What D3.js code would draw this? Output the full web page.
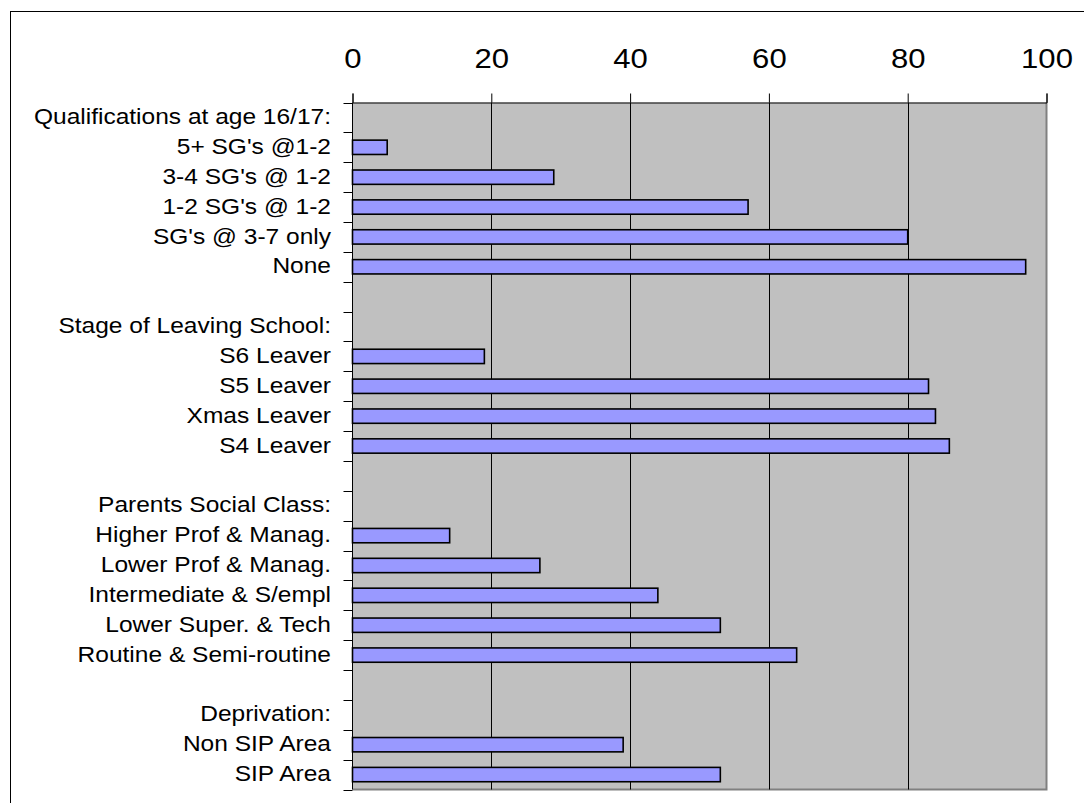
<!DOCTYPE html>
<html>
<head>
<meta charset="utf-8">
<script src="https://cdn.jsdelivr.net/npm/d3@7"></script>
<style>
  html, body { margin: 0; padding: 0; background: #fff; }
  svg { display: block; font-family: "Liberation Sans", Arial, sans-serif; }
</style>
</head>
<body>
<svg id="chart" width="1084" height="803"></svg>
<script>
// Row labels, top to bottom (blank rows separate the groups)
const rowLabels = [
  "Qualifications at age 16/17:",
  "5+ SG's @1-2",
  "3-4 SG's @ 1-2",
  "1-2 SG's @ 1-2",
  "SG's @ 3-7 only",
  "None",
  "",
  "Stage of Leaving School:",
  "S6 Leaver",
  "S5 Leaver",
  "Xmas Leaver",
  "S4 Leaver",
  "",
  "Parents Social Class:",
  "Higher Prof & Manag.",
  "Lower Prof & Manag.",
  "Intermediate & S/empl",
  "Lower Super. & Tech",
  "Routine & Semi-routine",
  "",
  "Deprivation:",
  "Non SIP Area",
  "SIP Area"
];

// Percentage for each row (null = heading or spacer row)
const rowValues = [
  null, 5, 29, 57, 80, 97,
  null,
  null, 19, 83, 84, 86,
  null,
  null, 14, 27, 44, 53, 64,
  null,
  null, 39, 53
];

const xTickValues = [0, 20, 40, 60, 80, 100];

const rows = rowLabels.map((label, i) => ({ i, label, value: rowValues[i] }));

const svg = d3.select("#chart");

// Outer chart frame
svg.append("rect")
  .attr("x", 10.5).attr("y", 11.5)
  .attr("width", 1200).attr("height", 900)
  .attr("fill", "#fff").attr("stroke", "#000").attr("stroke-width", 1);

const plot = { left: 352.5, right: 1046.5, top: 102.5, bottom: 789.5 };

const x = d3.scaleLinear().domain([0, 100]).range([plot.left, plot.right]);
const y = d3.scaleBand()
  .domain(rows.map(d => d.i))
  .range([plot.top, plot.bottom])
  .paddingInner(0.52).paddingOuter(0.26);
const yRow = d3.scaleBand()
  .domain(rows.map(d => d.i))
  .range([plot.top, plot.bottom]);

// Plot background
svg.append("rect")
  .attr("x", plot.left).attr("y", plot.top)
  .attr("width", plot.right - plot.left).attr("height", plot.bottom - plot.top)
  .attr("fill", "#c0c0c0");

// Gray plot border on the right and bottom
svg.append("path")
  .attr("d", `M${plot.right},${plot.top}V${plot.bottom}H${plot.left}`)
  .attr("fill", "none").attr("stroke", "#808080").attr("stroke-width", 2);

// Vertical gridlines
svg.append("g")
  .selectAll("line")
  .data(xTickValues.filter(v => v > 0 && v < 100))
  .join("line")
  .attr("x1", d => Math.round(x(d)) + 0.5).attr("x2", d => Math.round(x(d)) + 0.5)
  .attr("y1", plot.top).attr("y2", plot.bottom)
  .attr("stroke", "#000").attr("stroke-width", 1);

// Bars
svg.append("g")
  .selectAll("rect")
  .data(rows.filter(d => d.value != null))
  .join("rect")
  .attr("x", x(0))
  .attr("y", d => y(d.i))
  .attr("width", d => x(d.value) - x(0))
  .attr("height", y.bandwidth())
  .attr("fill", "#9999ff")
  .attr("stroke", "#000")
  .attr("stroke-width", 1.6);

// Top value axis (labels in a slightly widened Arial-like face)
const xAxis = svg.append("g")
  .attr("transform", `translate(0,${plot.top})`)
  .call(d3.axisTop(x).tickValues(xTickValues).tickSize(9).tickFormat(d3.format("d")));
xAxis.select(".domain").attr("stroke", "#000");
xAxis.selectAll(".tick line").attr("stroke", "#000");
xAxis.selectAll(".tick text")
  .attr("y", 0).attr("dy", 0)
  .attr("transform", "translate(0,-35) scale(1.11,1)")
  .attr("fill", "#000")
  .style("font-size", "28px")
  .style("font-family", "'Liberation Sans', Arial, sans-serif");

// Left category axis: ticks on row boundaries
const boundaries = rows.map(d => yRow(d.i)).concat([plot.bottom]);
const leftAxis = svg.append("g");
leftAxis.append("line")
  .attr("x1", plot.left).attr("x2", plot.left)
  .attr("y1", plot.top).attr("y2", plot.bottom)
  .attr("stroke", "#000");
leftAxis.selectAll("line.tk")
  .data(boundaries)
  .join("line")
  .attr("class", "tk")
  .attr("x1", plot.left - 9).attr("x2", plot.left)
  .attr("y1", d => Math.round(d) + 0.5).attr("y2", d => Math.round(d) + 0.5)
  .attr("stroke", "#000");

// Row labels
leftAxis.selectAll("text")
  .data(rows.filter(d => d.label))
  .join("text")
  .attr("transform", d => `translate(331,${yRow(d.i) + yRow.bandwidth() / 2}) scale(1.115,1)`)
  .attr("dy", "0.3em")
  .attr("text-anchor", "end")
  .attr("fill", "#000")
  .style("font-size", "22px")
  .text(d => d.label);
</script>
</body>
</html>
